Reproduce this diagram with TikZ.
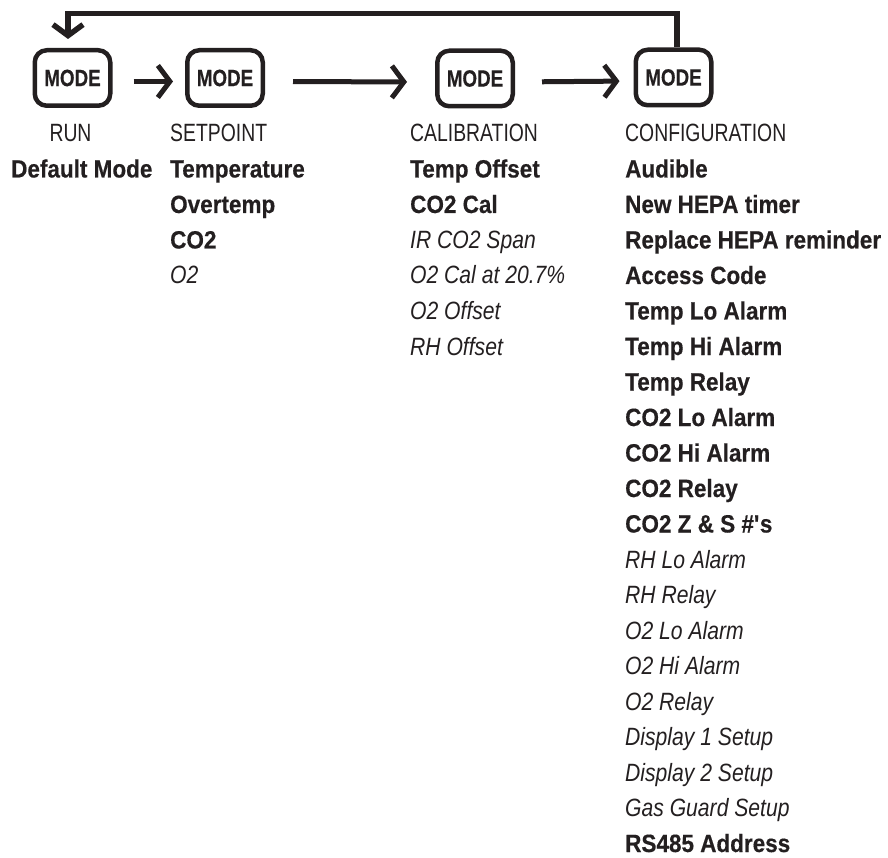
\documentclass[tikz,border=0pt]{standalone}
\usepackage{fontspec}
\setmainfont{Liberation Sans}
\newfontfamily\regf{Liberation Sans}[FakeStretch=0.775]
\newfontfamily\boldf{Liberation Sans}[FakeStretch=0.90,FakeBold=0.4]
\newfontfamily\itf{Liberation Sans}[FakeStretch=0.845]
\newfontfamily\modef{Liberation Sans}[FakeStretch=0.80,FakeBold=0.4]
\usetikzlibrary{arrows.meta}
\definecolor{ink}{HTML}{231F20}
\begin{document}
\begin{tikzpicture}[x=1pt,y=-1pt,
  modebox/.style={draw=ink, line width=4.5pt, rounded corners=12pt,
    minimum width=75.5pt, minimum height=55.5pt, inner sep=0pt, text=ink,
    font=\modef\bfseries\fontsize{23.5}{23.5}\selectfont},
  ttl/.style={anchor=base west, inner sep=0pt, text=ink,
    font=\regf\fontsize{25}{25}\selectfont},
  bitem/.style={anchor=base west, inner sep=0pt, text=ink,
    font=\boldf\bfseries\fontsize{25}{25}\selectfont},
  iitem/.style={anchor=base west, inner sep=0pt, text=ink,
    font=\itf\itshape\fontsize{25}{25}\selectfont},
  arr/.style={draw=ink, line width=5pt, -{Straight Barb[length=12pt,width=32pt]}},
  fb/.style={draw=ink, line width=5.5pt, -{Straight Barb[length=11pt,width=30pt]}}
]
\useasboundingbox (0,0) rectangle (888,858);

% mode buttons
\node[modebox] (b1) at (72.5,78) {MODE};
\node[modebox] (b2) at (225,78) {MODE};
\node[modebox] (b3) at (475,78.5) {MODE};
\node[modebox] (b4) at (673.5,77.5) {MODE};

% arrows between buttons
\draw[arr, shorten <=21pt, shorten >=12pt] ([yshift=-3.5pt]b1.east) -- ([yshift=-3.5pt]b2.west);
\draw[arr, shorten <=28pt, shorten >=28pt] ([yshift=-3.5pt]b2.east) -- ([yshift=-3.5pt]b3.west);
\draw[arr, shorten <=27pt, shorten >=14pt] ([yshift=-3.5pt]b3.east) -- ([yshift=-3.5pt]b4.west);

% feedback loop
\coordinate (fbr) at (677,13.5);
\coordinate (fbl) at (68,13.5);
\coordinate (fbend) at (68,39);
\draw[fb] (b4.north -| fbr) -- (fbr) -- (fbl) -- (fbend);

% column 1
\node[ttl, anchor=base] (t1) at (70.5,142) {RUN};
\node[bitem] (c1a) at (11,177.5) {Default Mode};

% column 2
\node[ttl] (t2) at (170,142) {SETPOINT};
\node[bitem] (c2a) at (170,177.5) {Temperature};
\node[bitem] (c2b) at (170,213) {Overtemp};
\node[bitem] (c2c) at (170,248.5) {CO2};
\node[iitem] (c2d) at (170,284) {O2};

% column 3
\node[ttl] (t3) at (410,142) {CALIBRATION};
\node[bitem] (c3a) at (410,177.5) {Temp Offset};
\node[bitem] (c3b) at (410,213) {CO2 Cal};
\node[iitem] (c3c) at (410,248.5) {IR CO2 Span};
\node[iitem] (c3d) at (410,284) {O2 Cal at 20.7\%};
\node[iitem] (c3e) at (410,319.5) {O2 Offset};
\node[iitem] (c3f) at (410,355) {RH Offset};

% column 4
\node[ttl] (t4) at (625,142) {CONFIGURATION};
\node[bitem] (c4a) at (625,177.5) {Audible};
\node[bitem] (c4b) at (625,213) {New HEPA timer};
\node[bitem] (c4c) at (625,248.5) {Replace HEPA reminder};
\node[bitem] (c4d) at (625,284) {Access Code};
\node[bitem] (c4e) at (625,319.5) {Temp Lo Alarm};
\node[bitem] (c4f) at (625,355) {Temp Hi Alarm};
\node[bitem] (c4g) at (625,390.5) {Temp Relay};
\node[bitem] (c4h) at (625,426) {CO2 Lo Alarm};
\node[bitem] (c4i) at (625,461.5) {CO2 Hi Alarm};
\node[bitem] (c4j) at (625,497) {CO2 Relay};
\node[bitem] (c4k) at (625,532.5) {CO2 Z \& S \#\textquotesingle s};
\node[iitem] (c4l) at (625,568) {RH Lo Alarm};
\node[iitem] (c4m) at (625,603.5) {RH Relay};
\node[iitem] (c4n) at (625,639) {O2 Lo Alarm};
\node[iitem] (c4o) at (625,674.5) {O2 Hi Alarm};
\node[iitem] (c4p) at (625,710) {O2 Relay};
\node[iitem] (c4q) at (625,745.5) {Display 1 Setup};
\node[iitem] (c4r) at (625,781) {Display 2 Setup};
\node[iitem] (c4s) at (625,816.5) {Gas Guard Setup};
\node[bitem] (c4t) at (625,852) {RS485 Address};
\end{tikzpicture}
\end{document}
